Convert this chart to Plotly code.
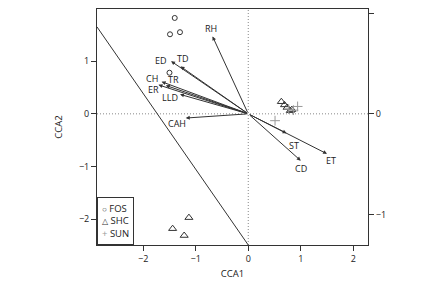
import plotly.graph_objects as go

# Site scores (CCA1, CCA2)
fos_x = [-1.40, -1.49, -1.30, -1.50]
fos_y = [1.82, 1.51, 1.55, 0.78]
shc_x = [-1.13, -1.44, -1.22, 0.63, 0.69, 0.74, 0.83, 0.80]
shc_y = [-1.97, -2.18, -2.31, 0.23, 0.17, 0.12, 0.08, 0.06]
sun_x = [0.94, 0.51, 0.86, 0.77]
sun_y = [0.14, -0.13, 0.07, 0.09]

# Environmental variable arrows (tips in CCA1/CCA2 units)
env_names = ["RH", "ED", "TD", "CH", "ER", "TR", "LLD", "CAH", "ST", "ET", "CD"]
env_x = [-0.68, -1.47, -1.29, -1.65, -1.71, -1.57, -1.30, -1.19, 0.73, 1.50, 1.00]
env_y = [1.47, 1.00, 0.90, 0.61, 0.55, 0.54, 0.37, -0.08, -0.37, -0.76, -0.89]
# label offsets (pixels) from arrow tip
lab_dx = [-2, -10, 2, -10, -5, 8, -10, -9, 7, 4, 0]
lab_dy = [8, 1, 8, 3, -5, 6, -3, -5, -12, -7, -8]

# Separating line
line_x = [-2.88, 0.0]
line_y = [1.65, -2.49]

xr = [-2.88, 2.28]
yr = [-2.49, 1.99]
x2r = [-1.49, 1.18]
y2r = [-1.30, 1.04]

FONT = "Open Sans"
dark = "#333333"

fig = go.Figure()
fig.add_trace(go.Scatter(x=line_x, y=line_y, mode="lines",
                         line=dict(color=dark, width=1), showlegend=False, hoverinfo="skip"))
fig.add_trace(go.Scatter(x=fos_x, y=fos_y, mode="markers", name="FOS",
                         marker=dict(symbol="circle-open", size=5, color=dark, line=dict(width=1)), showlegend=False))
fig.add_trace(go.Scatter(x=shc_x, y=shc_y, mode="markers", name="SHC",
                         marker=dict(symbol="triangle-up-open", size=7, color=dark, line=dict(width=1)), showlegend=False))
fig.add_trace(go.Scatter(x=sun_x, y=sun_y, mode="markers", name="SUN",
                         marker=dict(symbol="cross-thin-open", size=7, color="#999999", line=dict(width=1)), showlegend=False))
# secondary axes carrier
fig.add_trace(go.Scatter(x=[0], y=[0], xaxis="x2", yaxis="y2", mode="markers",
                         marker=dict(opacity=0), showlegend=False, hoverinfo="skip"))

annotations = []
for n, x, y, dx, dy in zip(env_names, env_x, env_y, lab_dx, lab_dy):
    annotations.append(dict(x=x, y=y, ax=0, ay=0, xref="x", yref="y", axref="x", ayref="y",
                            text="", showarrow=True, arrowhead=2, arrowsize=0.8, arrowwidth=1,
                            arrowcolor=dark, standoff=0))
    annotations.append(dict(x=x, y=y, xref="x", yref="y", text=n, showarrow=False,
                            xshift=dx, yshift=dy, font=dict(family=FONT, size=9, color="#222")))

# legend box
annotations.append(dict(
    x=0, y=0, xref="paper", yref="paper", xanchor="left", yanchor="bottom",
    text="<span style='color:#333;font-size:8px'>○</span> FOS<br><span style='color:#333;font-size:8px'>△</span> SHC<br><span style='color:#999'>+</span> SUN",
    align="left", showarrow=False, bordercolor="#333", borderwidth=1, borderpad=4,
    bgcolor="white", font=dict(family=FONT, size=9.5, color="#222")))

# page body has an 8px margin, so the figure is sized to fit the 445x282 window
fig.update_layout(
    width=437, height=274,
    margin=dict(l=89, r=77, t=1, b=37, autoexpand=False),
    paper_bgcolor="white", plot_bgcolor="white",
    font=dict(family=FONT, size=9, color="#222"),
    showlegend=False,
    xaxis=dict(range=xr, tickvals=[-2, -1, 0, 1, 2], ticks="outside", ticklen=5,
               tickcolor=dark, showline=True, linecolor=dark, linewidth=1, mirror=True,
               showgrid=False, zeroline=False, automargin=False,
               title=dict(text="CCA1", standoff=6, font=dict(size=9.5))),
    yaxis=dict(range=yr, tickvals=[-2, -1, 0, 1], ticks="outside", ticklen=5,
               tickcolor=dark, showline=True, linecolor=dark, linewidth=1, mirror=True,
               showgrid=False, zeroline=False, automargin=False,
               title=dict(text="CCA2", standoff=14, font=dict(size=9.5))),
    xaxis2=dict(range=x2r, overlaying="x", side="top", tickvals=[-1, 0, 1], ticks="outside",
                ticklen=5, tickcolor=dark, showticklabels=False, showgrid=False, zeroline=False,
                automargin=False),
    yaxis2=dict(range=y2r, overlaying="y", side="right", tickvals=[-1, 0, 1], ticks="outside",
                ticklen=5, tickcolor=dark, showgrid=False, zeroline=False, automargin=False),
    annotations=annotations,
    shapes=[
        dict(type="line", xref="x", yref="paper", x0=0, x1=0, y0=0, y1=1,
             line=dict(color="#888", width=1, dash="1px,2px"), layer="below"),
        dict(type="line", xref="paper", yref="y", x0=0, x1=1, y0=0, y1=0,
             line=dict(color="#888", width=1, dash="1px,2px"), layer="below"),
    ],
)

fig.write_html("out.html")
